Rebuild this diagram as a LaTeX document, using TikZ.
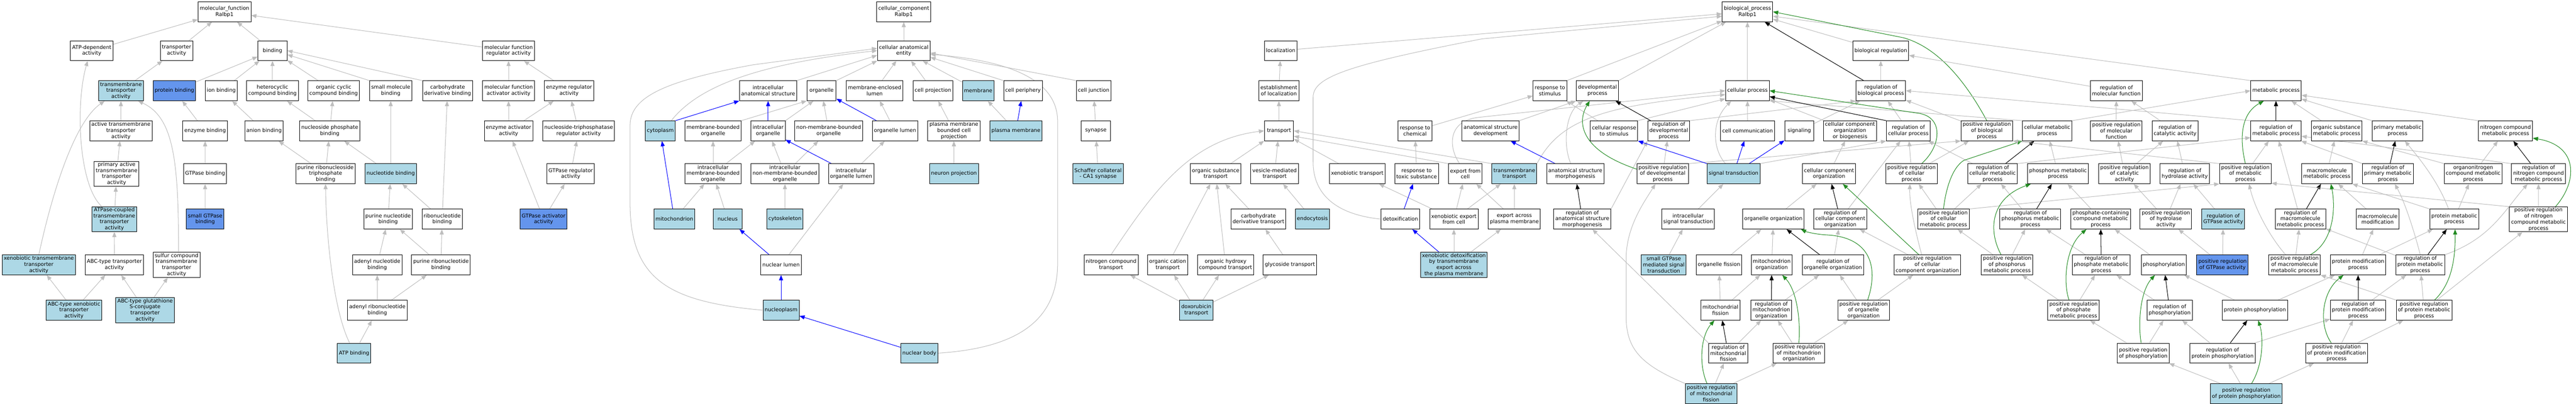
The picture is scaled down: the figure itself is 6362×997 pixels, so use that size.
\documentclass[tikz,border=0pt]{standalone}
\usepackage{fontspec}
\setmainfont{DejaVu Sans}
\usetikzlibrary{arrows.meta}
\definecolor{lightblue}{RGB}{173,216,230}
\definecolor{cornflower}{RGB}{100,149,237}
\definecolor{edgegray}{RGB}{190,190,190}
\definecolor{forestgreen}{RGB}{34,139,34}
\pgfdeclarelayer{edges}
\pgfsetlayers{edges,main}

\begin{document}
\begin{tikzpicture}[x=1pt,y=1pt]
    \tikzstyle{term}=[rectangle,draw=black,line width=1.2pt,fill=white,align=center,minimum width=72pt,minimum height=49pt,inner xsep=4pt,inner ysep=2pt,font=\fontsize{12.8}{15}\selectfont]
    \tikzstyle{every node}=[term]
    \tikzstyle{hit}=[fill=lightblue]
    \tikzstyle{ann}=[fill=cornflower]
    \tikzstyle{isa}=[draw=edgegray,line width=1.3pt,-{Triangle[length=13pt,width=10pt]}]
    \tikzstyle{partof}=[isa,draw=blue]
    \tikzstyle{regs}=[isa,draw=black]
    \tikzstyle{posreg}=[isa,draw=forestgreen]
    \useasboundingbox (0,0) rectangle (6362,-997);

    % molecular function
    \node (mf) at (554.5,-29) {molecular\_function\\Ralbp1};
    \node (atpdep) at (226.6,-125) {ATP-dependent\\activity};
    \node (transp) at (436,-125) {transporter\\activity};
    \node (binding) at (673,-125) {binding};
    \node (mfra) at (1256,-125) {molecular function\\regulator activity};
    \node[hit] (tmta) at (298.7,-224) {transmembrane\\transporter\\activity};
    \node[ann] (protbind) at (430.8,-224) {protein binding};
    \node (ionbind) at (546.5,-224) {ion binding};
    \node (hcb) at (673,-224) {heterocyclic\\compound binding};
    \node (occb) at (824,-224) {organic cyclic\\compound binding};
    \node (smb) at (965,-224) {small molecule\\binding};
    \node (cdb) at (1105.4,-224) {carbohydrate\\derivative binding};
    \node (mfaa) at (1256,-224) {molecular function\\activator activity};
    \node (era) at (1405.4,-224) {enzyme regulator\\activity};
    \node (atta) at (298.6,-323) {active transmembrane\\transporter\\activity};
    \node (enzbind) at (506.7,-323) {enzyme binding};
    \node (anbind) at (652,-323) {anion binding};
    \node (npb) at (814.4,-323) {nucleoside phosphate\\binding};
    \node (eaa) at (1256,-323) {enzyme activator\\activity};
    \node (ntra) at (1429,-323) {nucleoside-triphosphatase\\regulator activity};
    \node (pata) at (288,-429) {primary active\\transmembrane\\transporter\\activity};
    \node (gtpbind) at (506.5,-429) {GTPase binding};
    \node (prtb) at (804,-429) {purine ribonucleoside\\triphosphate\\binding};
    \node[hit] (ntb) at (965,-429) {nucleotide binding};
    \node (gtpra) at (1409.5,-429) {GTPase regulator\\activity};
    \node[hit] (atpcta) at (282.4,-541) {ATPase-coupled\\transmembrane\\transporter\\activity};
    \node[ann] (sgtpbind) at (506.7,-541) {small GTPase\\binding};
    \node (pnb) at (958.5,-541) {purine nucleotide\\binding};
    \node (rnb) at (1092,-541) {ribonucleotide\\binding};
    \node[ann] (gtpaa) at (1342.5,-541) {GTPase activator\\activity};
    \node[hit] (xtta) at (95.9,-654) {xenobiotic transmembrane\\transporter\\activity};
    \node (abcta) at (282.5,-654) {ABC-type transporter\\activity};
    \node (scta) at (436,-654) {sulfur compound\\transmembrane\\transporter\\activity};
    \node (anb) at (931.6,-654) {adenyl nucleotide\\binding};
    \node (prnb) at (1089,-654) {purine ribonucleotide\\binding};
    \node[hit] (abcx) at (182.7,-766) {ABC-type xenobiotic\\transporter\\activity};
    \node[hit] (abcg) at (358.3,-766) {ABC-type glutathione\\S-conjugate\\transporter\\activity};
    \node (arnb) at (931.9,-766) {adenyl ribonucleotide\\binding};
    \node[hit] (atpb) at (874.5,-872) {ATP binding};

    % cellular component
    \node (cc) at (2232,-29) {cellular\_component\\Ralbp1};
    \node (cae) at (2232,-125) {cellular anatomical\\entity};
    \node (iass) at (1897,-224) {intracellular\\anatomical structure};
    \node (organelle) at (2029,-224) {organelle};
    \node (mel) at (2160,-224) {membrane-enclosed\\lumen};
    \node (cproj) at (2304,-224) {cell projection};
    \node[hit] (membrane) at (2415.8,-224) {membrane};
    \node (cperiph) at (2526.5,-224) {cell periphery};
    \node (cjunc) at (2701,-224) {cell junction};
    \node[hit] (cytoplasm) at (1630.8,-323) {cytoplasm};
    \node (mbo) at (1761,-323) {membrane-bounded\\organelle};
    \node (io) at (1897,-323) {intracellular\\organelle};
    \node (nmbo) at (2046.6,-323) {non-membrane-bounded\\organelle};
    \node (olumen) at (2210.6,-323) {organelle lumen};
    \node (pmbcp) at (2355.8,-323) {plasma membrane\\bounded cell\\projection};
    \node[hit] (pm) at (2509,-323) {plasma membrane};
    \node (synapse) at (2706.4,-323) {synapse};
    \node (imbo) at (1761,-429) {intracellular\\membrane-bounded\\organelle};
    \node (inmbo) at (1938.6,-429) {intracellular\\non-membrane-bounded\\organelle};
    \node (iol) at (2102,-429) {intracellular\\organelle lumen};
    \node[hit] (nproj) at (2356,-429) {neuron projection};
    \node[hit] (scs) at (2711.8,-429) {Schaffer collateral\\- CA1 synapse};
    \node[hit] (mito) at (1665.4,-541) {mitochondrion};
    \node[hit] (nucleus) at (1797,-541) {nucleus};
    \node[hit] (cytoskel) at (1938.5,-541) {cytoskeleton};
    \node (nlumen) at (1929,-654) {nuclear lumen};
    \node[hit] (nplasm) at (1929,-766) {nucleoplasm};
    \node[hit] (nbody) at (2270.6,-872) {nuclear body};

    % biological process
    \node (bp) at (4315.7,-29) {biological\_process\\Ralbp1};
    \node (localization) at (3162.9,-125) {localization};
    \node (breg) at (4645,-125) {biological regulation};
    \node (eol) at (3158.4,-224) {establishment\\of localization};
    \node (rstim) at (3827.8,-224) {response to\\stimulus};
    \node (devp) at (3945.2,-224) {developmental\\process};
    \node (cp) at (4315.7,-224) {cellular process};
    \node (rbp) at (4645,-224) {regulation of\\biological process};
    \node (rmfn) at (5226.7,-224) {regulation of\\molecular function};
    \node (mp) at (5621,-224) {metabolic process};
    \node (transport) at (3158.7,-323) {transport};
    \node (rchem) at (3494.7,-323) {response to\\chemical};
    \node (asd) at (3681.3,-323) {anatomical structure\\development};
    \node (crs) at (3986.2,-323) {cellular response\\to stimulus};
    \node (rdp) at (4121.2,-323) {regulation of\\developmental\\process};
    \node (ccomm) at (4316,-323) {cell communication};
    \node (signaling) at (4443.7,-323) {signaling};
    \node (ccob) at (4569,-323) {cellular component\\organization\\or biogenesis};
    \node (rcp) at (4713,-323) {regulation of\\cellular process};
    \node (prbp) at (4906.8,-323) {positive regulation\\of biological\\process};
    \node (cmp) at (5056,-323) {cellular metabolic\\process};
    \node (prmf) at (5226.7,-323) {positive regulation\\of molecular\\function};
    \node (rcata) at (5371.8,-323) {regulation of\\catalytic activity};
    \node (rmp) at (5621,-323) {regulation of\\metabolic process};
    \node (osmp) at (5770.8,-323) {organic substance\\metabolic process};
    \node (pmp2) at (5921.2,-323) {primary metabolic\\process};
    \node (ncmp) at (6187.9,-323) {nitrogen compound\\metabolic process};
    \node (ost) at (3002.4,-429) {organic substance\\transport};
    \node (vmt) at (3147.9,-429) {vesicle-mediated\\transport};
    \node (xt) at (3352,-429) {xenobiotic transport};
    \node (rtox) at (3498.6,-429) {response to\\toxic substance};
    \node (efc) at (3618.8,-429) {export from\\cell};
    \node[hit] (tmt) at (3739.9,-429) {transmembrane\\transport};
    \node (asm) at (3890.4,-429) {anatomical structure\\morphogenesis};
    \node (prdp) at (4106.4,-429) {positive regulation\\of developmental\\process};
    \node[hit] (st) at (4281.4,-429) {signal transduction};
    \node (cco) at (4517.2,-429) {cellular component\\organization};
    \node (prcp) at (4721,-429) {positive regulation\\of cellular\\process};
    \node (rcmp) at (4921,-429) {regulation of\\cellular metabolic\\process};
    \node (phmp) at (5082.7,-429) {phosphorus metabolic\\process};
    \node (pcata) at (5246.7,-429) {positive regulation\\of catalytic\\activity};
    \node (rha) at (5395.7,-429) {regulation of\\hydrolase activity};
    \node (pmp) at (5545.4,-429) {positive regulation\\of metabolic\\process};
    \node (mmp) at (5746.6,-429) {macromolecule\\metabolic process};
    \node (rpmp) at (5897.3,-429) {regulation of\\primary metabolic\\process};
    \node (oncmp) at (6108,-429) {organonitrogen\\compound metabolic\\process};
    \node (rncmp) at (6269.4,-429) {regulation of\\nitrogen compound\\metabolic process};
    \node (cdt) at (3108,-541) {carbohydrate\\derivative transport};
    \node[hit] (endo) at (3241.3,-541) {endocytosis};
    \node (detox) at (3458.7,-541) {detoxification};
    \node (xefc) at (3590.7,-541) {xenobiotic export\\from cell};
    \node (eapm) at (3740,-541) {export across\\plasma membrane};
    \node (rasm) at (3907.7,-541) {regulation of\\anatomical structure\\morphogenesis};
    \node (isst) at (4169,-541) {intracellular\\signal transduction};
    \node (oo) at (4379.7,-541) {organelle organization};
    \node (rcco) at (4545,-541) {regulation of\\cellular component\\organization};
    \node (prcmp) at (4799.8,-541) {positive regulation\\of cellular\\metabolic process};
    \node (rphmp) at (5014.3,-541) {regulation of\\phosphorus metabolic\\process};
    \node (pcmp) at (5188,-541) {phosphate-containing\\compound metabolic\\process};
    \node (pha) at (5349,-541) {positive regulation\\of hydrolase\\activity};
    \node[hit] (rgtp) at (5490.6,-541) {regulation of\\GTPase activity};
    \node (rmmp) at (5681.3,-541) {regulation of\\macromolecule\\metabolic process};
    \node (mmod) at (5872,-541) {macromolecule\\modification};
    \node (protmp) at (6061.3,-541) {protein metabolic\\process};
    \node (pncmp) at (6269.2,-541.6) {positive regulation\\of nitrogen\\compound metabolic\\process};
    \node (nct) at (2744,-654) {nitrogen compound\\transport};
    \node (oct) at (2883.8,-654) {organic cation\\transport};
    \node (ohct) at (3026.7,-654) {organic hydroxy\\compound transport};
    \node (glyt) at (3185.6,-654) {glycoside transport};
    \node[hit] (xdtx) at (3590.7,-654) {xenobiotic detoxification\\by transmembrane\\export across\\the plasma membrane};
    \node[hit] (sgmst) at (4109,-654) {small GTPase\\mediated signal\\transduction};
    \node (ofis) at (4245.4,-654) {organelle fission};
    \node (mo) at (4375.7,-654) {mitochondrion\\organization};
    \node (roo) at (4526.7,-654) {regulation of\\organelle organization};
    \node (prcco) at (4760,-654) {positive regulation\\of cellular\\component organization};
    \node (prphmp) at (4957,-654) {positive regulation\\of phosphorus\\metabolic process};
    \node (rpcmp) at (5189.3,-654) {regulation of\\phosphate metabolic\\process};
    \node (phos) at (5344,-654) {phosphorylation};
    \node[ann] (pgtp) at (5489,-654) {positive regulation\\of GTPase activity};
    \node (pmmp) at (5666.8,-654) {positive regulation\\of macromolecule\\metabolic process};
    \node (pmodp) at (5823.8,-654) {protein modification\\process};
    \node (rprotmp) at (5977.2,-654) {regulation of\\protein metabolic\\process};
    \node[hit] (doxt) at (2954.5,-766) {doxorubicin\\transport};
    \node (mfis) at (4249,-766) {mitochondrial\\fission};
    \node (rmo) at (4374.5,-766) {regulation of\\mitochondrion\\organization};
    \node (proo) at (4602.5,-766) {positive regulation\\of organelle\\organization};
    \node (ppcmp) at (5121,-766) {positive regulation\\of phosphate\\metabolic process};
    \node (rphos) at (5358.4,-766) {regulation of\\phosphorylation};
    \node (pp) at (5569,-766) {protein phosphorylation};
    \node (rpmod) at (5823.8,-766) {regulation of\\protein modification\\process};
    \node (pprotmp) at (5986.7,-766) {positive regulation\\of protein metabolic\\process};
    \node (rmf) at (4268,-872) {regulation of\\mitochondrial\\fission};
    \node (prmo) at (4442.5,-872) {positive regulation\\of mitochondrion\\organization};
    \node (pphos) at (5293,-872) {positive regulation\\of phosphorylation};
    \node (rpp) at (5489,-872) {regulation of\\protein phosphorylation};
    \node (ppmod) at (5770.6,-872) {positive regulation\\of protein modification\\process};
    \node[hit] (pmf) at (4225.8,-972) {positive regulation\\of mitochondrial\\fission};
    \node[hit] (ppp) at (5547.7,-972) {positive regulation\\of protein phosphorylation};

    \begin{pgfonlayer}{edges}
    % molecular function edges
    \draw[isa] (atpdep) -- (mf);
    \draw[isa] (transp) -- (mf);
    \draw[isa] (binding) -- (mf);
    \draw[isa] (mfra) -- (mf);
    \draw[isa] (tmta) -- (transp);
    \draw[isa] (protbind) -- (binding);
    \draw[isa] (ionbind) -- (binding);
    \draw[isa] (hcb) -- (binding);
    \draw[isa] (occb) -- (binding);
    \draw[isa] (smb.north west) -- (binding.-15);
    \draw[isa] (cdb.north west) -- (binding.east);
    \draw[isa] (mfaa) -- (mfra);
    \draw[isa] (era) -- (mfra);
    \draw[isa] (atta) -- (tmta);
    \draw[isa] (enzbind) -- (protbind);
    \draw[isa] (anbind) -- (ionbind);
    \draw[isa] (npb) -- (hcb);
    \draw[isa] (npb) -- (occb);
    \draw[isa] (eaa) -- (mfaa);
    \draw[isa] (eaa) -- (era);
    \draw[isa] (ntra) -- (era);
    \draw[isa] (pata) -- (atta);
    \draw[isa] (gtpbind) -- (enzbind);
    \draw[isa] (prtb) -- (anbind);
    \draw[isa] (prtb) -- (npb);
    \draw[isa] (ntb) -- (npb);
    \draw[isa] (ntb) -- (smb);
    \draw[isa] (gtpra) -- (ntra);
    \draw[isa] (atpcta) -- (pata);
    \draw[isa] ([xshift=-31pt]atpcta.north) .. controls (195,-460) and (185,-260) .. ([xshift=-10pt]atpdep.south);
    \draw[isa] (sgtpbind) -- (gtpbind);
    \draw[isa] (pnb) -- (ntb);
    \draw[isa] (rnb) -- (ntb);
    \draw[isa] (rnb) -- (cdb);
    \draw[isa] (gtpaa) -- (eaa);
    \draw[isa] (gtpaa) -- (gtpra);
    \draw[isa] (xtta.north) .. controls (130,-470) and (185,-300) .. ([xshift=-40pt]tmta.south);
    \draw[isa] (abcta) -- (atpcta);
    \draw[isa] ([xshift=5pt]scta.north) .. controls (441,-400) and (430,-290) .. ([xshift=42pt]tmta.south);
    \draw[isa] (anb) -- (pnb);
    \draw[isa] (prnb) -- (pnb);
    \draw[isa] (prnb) -- (rnb);
    \draw[isa] (abcx) -- (xtta);
    \draw[isa] (abcx) -- (abcta);
    \draw[isa] (abcg) -- (abcta);
    \draw[isa] (abcg) -- (scta);
    \draw[isa] (arnb) -- (anb);
    \draw[isa] (arnb) -- (prnb);
    \draw[isa] ([xshift=-11pt]atpb.north) .. controls (820,-760) and (805,-560) .. (prtb.south);
    \draw[isa] (atpb) -- (arnb);

    % cellular component edges
    \draw[isa] (cae) -- (cc);
    \draw[isa] (iass.north east) -- (cae.190);
    \draw[isa] (organelle.north east) -- (cae.south west);
    \draw[isa] (mel) -- (cae);
    \draw[isa] (cproj) -- (cae);
    \draw[isa] (membrane) -- (cae);
    \draw[isa] (cperiph.north west) -- (cae.-14);
    \draw[isa] (cjunc.north west) -- (cae.-5);
    \draw[isa] ([xshift=27pt]cytoplasm.north) .. controls (1720,-220) and (1850,-160) .. (cae.west);
    \draw[isa] (nplasm.west) .. controls (1650,-745) and (1556,-690) .. (1556,-500) -- (1556,-310) .. controls (1556,-240) and (1640,-200) .. (1860,-160) -- (cae.175);
    \draw[isa] (nbody.east) .. controls (2500,-860) and (2612,-800) .. (2612,-650) -- (2612,-300) .. controls (2612,-200) and (2500,-150) .. (cae.-8);
    \draw[isa] (mbo.north east) -- (organelle.south west);
    \draw[isa] (io.north east) -- ([xshift=-20pt]organelle.south);
    \draw[isa] (nmbo) -- (organelle);
    \draw[isa] (olumen) -- (mel);
    \draw[isa] (pmbcp) -- (cproj);
    \draw[isa] (pm) -- (membrane);
    \draw[isa] (synapse) -- (cjunc);
    \draw[isa] (imbo) -- (mbo);
    \draw[isa] (imbo) -- (io);
    \draw[isa] (inmbo) -- (io);
    \draw[isa] (inmbo) -- (nmbo);
    \draw[isa] (iol) -- (olumen);
    \draw[isa] (nproj) -- (pmbcp);
    \draw[isa] (scs) -- (synapse);
    \draw[isa] (mito) -- (imbo);
    \draw[isa] (nucleus) -- (imbo);
    \draw[isa] (cytoskel) -- (inmbo);
    \draw[isa] (nlumen) -- (iol);
    \draw[partof] (cytoplasm.north east) -- (iass.south west);
    \draw[partof] (io) -- (iass);
    \draw[partof] (olumen) -- (organelle);
    \draw[partof] (pm) -- (cperiph);
    \draw[partof] (iol) -- (io);
    \draw[partof] (mito) -- (cytoplasm);
    \draw[partof] (nlumen) -- (nucleus);
    \draw[partof] (nplasm) -- (nlumen);
    \draw[partof] (nbody) -- (nplasm);

    % biological process edges
    \draw[isa] (localization) -- (bp);
    \draw[isa] (detox.west) .. controls (3300,-530) and (3243,-480) .. (3243,-400) -- (3243,-240) .. controls (3243,-190) and (3330,-160) .. (3660,-96) -- (bp.190);
    \draw[isa] (rstim.north east) -- (bp.200);
    \draw[isa] (devp.north east) -- ([xshift=10pt]bp.south west);
    \draw[isa] (cp) -- (bp);
    \draw[isa] (breg) -- (bp);
    \draw[isa] (mp.north west) -- (bp.-10);
    \draw[regs] (rbp) -- (bp);
    \draw[posreg] (prbp.north) .. controls (4870,-230) and (4800,-120) .. (4700,-93) -- (bp.east);
    \draw[isa] (eol) -- (localization);
    \draw[isa] (transport) -- (eol);
    \draw[isa] (ost) -- (transport);
    \draw[isa] (vmt) -- (transport);
    \draw[isa] (nct.north) .. controls (2850,-470) and (2940,-345) .. (transport.west);
    \draw[isa] (xt) -- (transport);
    \draw[isa] (efc.north west) -- (transport.-20);
    \draw[isa] (tmt.north west) -- (transport.east);
    \draw[isa] (cdt) -- (ost);
    \draw[isa] (oct) -- (ost);
    \draw[isa] (ohct) -- (ost);
    \draw[isa] (glyt) -- (cdt);
    \draw[isa] (doxt) -- (nct);
    \draw[isa] (doxt) -- (oct);
    \draw[isa] (doxt) -- (ohct);
    \draw[isa] (doxt) -- (glyt);
    \draw[isa] (endo) -- (vmt);
    \draw[isa] (rchem) -- (rstim);
    \draw[isa] (rtox) -- (rchem);
    \draw[isa] (crs) -- (rstim);
    \draw[isa] (crs.north east) -- (cp.200);
    \draw[isa] ([xshift=-14pt]efc.north) .. controls (3580,-370) and (3570,-300) .. (3650,-290) -- (cp.west);
    \draw[isa] (tmt.north east) .. controls (3850,-300) and (3950,-260) .. (cp.190);
    \draw[isa] (asd.north east) -- (devp.south west);
    \draw[isa] ([xshift=-11pt]asm.north) .. controls (3860,-360) and (3865,-280) .. ([xshift=-35pt]devp.south);
    \draw[isa] (rdp.north east) -- (rbp.south west);
    \draw[isa] (prdp) -- (rdp);
    \draw[isa] (prdp.north east) -- (prbp.south west);
    \draw[isa] (xdtx) -- (xefc);
    \draw[isa] (xdtx) -- (eapm);
    \draw[isa] (xefc) -- (xt);
    \draw[isa] (xefc) -- (efc);
    \draw[isa] (xefc) -- (tmt);
    \draw[isa] (eapm) -- (tmt);
    \draw[isa] (eapm) -- (efc);
    \draw[isa] (rmf.north west) -- ([xshift=25pt]rasm.south);
    \draw[isa] (rasm.north east) -- (rdp.south west);
    \draw[isa] (pmf.north west) .. controls (4050,-900) and (4016,-860) .. (4016,-780) -- (4016,-640) .. controls (4016,-560) and (4060,-500) .. ([xshift=-18pt]prdp.south);
    \draw[isa] (sgmst) -- (isst);
    \draw[isa] (isst) -- (st);
    \draw[isa] ([xshift=-20pt]st.north) .. controls (4230,-370) and (4225,-300) .. ([xshift=-40pt]cp.south);
    \draw[isa] (st.north east) -- (rcp.south west);
    \draw[isa] (rbp) -- (breg);
    \draw[isa] (rmfn) -- (breg);
    \draw[isa] (rmp.north west) -- (rbp.east);
    \draw[isa] (prbp) -- (rbp);
    \draw[isa] (signaling) -- (rbp);
    \draw[isa] (ccomm) -- (cp);
    \draw[isa] (ccob) -- (cp);
    \draw[isa] (cmp.north west) -- (cp.south east);
    \draw[regs] (rcp.north west) -- (cp.-15);
    \draw[isa] (rcp) -- (rbp);
    \draw[isa] (prcp) -- (rcp);
    \draw[isa] (prcp) -- (prbp);
    \draw[posreg] ([xshift=25pt]prcp.north) .. controls (4795,-360) and (4800,-290) .. (4740,-280) -- (cp.east);
    \draw[isa] (cco) -- (ccob);
    \draw[isa] (oo) -- (cco);
    \draw[regs] (rcco) -- (cco);
    \draw[isa] (rcco) -- (rcp);
    \draw[isa] (prcco) -- (rcco);
    \draw[isa] ([xshift=-14pt]prcco.north) .. controls (4730,-570) and (4715,-500) .. ([xshift=-4pt]prcp.south);
    \draw[posreg] ([xshift=-21pt]prcco.north) -- ([xshift=34pt]cco.south);
    \draw[isa] (ofis) -- (oo);
    \draw[isa] (mo) -- (oo);
    \draw[regs] (roo) -- (oo);
    \draw[isa] (roo) -- (rcco);
    \draw[isa] (mfis) -- (ofis);
    \draw[isa] (mfis) -- (mo);
    \draw[regs] (rmo) -- (mo);
    \draw[isa] (rmo) -- (roo);
    \draw[isa] (proo) -- (roo);
    \draw[posreg] ([xshift=10pt]proo.north) .. controls (4640,-660) and (4620,-585) .. (4510,-580) .. controls (4480,-578) and (4460,-572) .. ([xshift=68pt]oo.south);
    \draw[isa] (proo) -- (prcco);
    \draw[regs] (rmf) -- (mfis);
    \draw[isa] (rmf) -- (rmo);
    \draw[isa] (prmo) -- (rmo);
    \draw[posreg] (prmo.north) .. controls (4447,-800) and (4440,-720) .. ([xshift=26pt]mo.south);
    \draw[isa] (prmo) -- (proo);
    \draw[isa] (pmf) -- (rmf);
    \draw[posreg] ([xshift=-10pt]pmf.north) .. controls (4195,-900) and (4200,-830) .. ([xshift=-15pt]mfis.south);
    \draw[isa] (pmf) -- (prmo);
    \draw[regs] (rasm) -- (asm);
    \draw[regs] (rdp) -- (devp);
    \draw[posreg] (prdp.170) .. controls (3900,-370) and (3895,-300) .. ([xshift=-19pt]devp.south);
    \draw[partof] (detox) -- (rtox);
    \draw[partof] (xdtx) -- (detox);
    \draw[partof] (asm) -- (asd);
    \draw[partof] (st.north west) -- (crs.south east);
    \draw[partof] (st) -- (ccomm);
    \draw[partof] (st) -- (signaling);
    \draw[isa] (cmp.north east) -- (mp.west);
    \draw[regs] (rcmp) -- (cmp);
    \draw[isa] (rcmp) -- (rcp);
    \draw[isa] (rcmp.north east) -- (rmp.195);
    \draw[isa] (prcmp) -- (prcp);
    \draw[isa] (prcmp) -- (rcmp);
    \draw[isa] (prcmp.north east) -- (pmp.south west);
    \draw[posreg] (prcmp.north) .. controls (4805,-470) and (4820,-415) .. (4850,-396) -- (cmp.south west);
    \draw[isa] (phmp) -- (cmp);
    \draw[regs] (rphmp) -- (phmp);
    \draw[isa] (rphmp) -- (rcmp);
    \draw[isa] (pcmp) -- (phmp);
    \draw[isa] (prphmp) -- (prcmp);
    \draw[isa] (prphmp) -- (rphmp);
    \draw[posreg] ([xshift=-15pt]prphmp.north) .. controls (4910,-570) and (4915,-490) .. ([xshift=-67pt]phmp.south);
    \draw[regs] (rpcmp) -- (pcmp);
    \draw[isa] (rpcmp) -- (rphmp);
    \draw[isa] (ppcmp) -- (prphmp);
    \draw[isa] (ppcmp) -- (rpcmp);
    \draw[posreg] ([xshift=-11pt]ppcmp.north) .. controls (5095,-700) and (5100,-610) .. ([xshift=-35pt]pcmp.south);
    \draw[isa] (pphos) -- (ppcmp);
    \draw[isa] (prmf) -- (rmfn);
    \draw[isa] (pcata) -- (prmf);
    \draw[isa] (pcata) -- (rcata);
    \draw[isa] (rcata) -- (rmfn);
    \draw[isa] (osmp) -- (mp);
    \draw[isa] (pmp2.north west) -- (mp.-18);
    \draw[isa] (ncmp.north west) -- (mp.-10);
    \draw[regs] (rmp) -- (mp);
    \draw[isa] (rpmp.north west) -- (rmp.-22);
    \draw[isa] (rncmp.north west) -- (rmp.-12);
    \draw[isa] (rha) -- (rcata);
    \draw[isa] (pmp) -- (rmp);
    \draw[posreg] (pmp.north) .. controls (5530,-340) and (5535,-280) .. (mp.220);
    \draw[isa] (pmp.north west) -- (prbp.south east);
    \draw[isa] (mmp) -- (osmp);
    \draw[isa] (pha) -- (pcata);
    \draw[isa] (pha) -- (rha);
    \draw[isa] (rgtp) -- (rha);
    \draw[regs] (rmmp) -- (mmp);
    \draw[isa] (rmmp) -- (rmp);
    \draw[isa] (rprotmp) -- (rmmp);
    \draw[isa] (pncmp.north west) -- (pmp.-20);
    \draw[isa] (protmp.north west) -- (mmp.south east);
    \draw[isa] (mmod) -- (mmp);
    \draw[isa] (pgtp) -- (pha);
    \draw[isa] (pgtp) -- (rgtp);
    \draw[isa] ([xshift=-22pt]pmmp.north) .. controls (5610,-590) and (5570,-520) .. ([xshift=9pt]pmp.south);
    \draw[isa] (pmmp) -- (rmmp);
    \draw[posreg] ([xshift=39pt]pmmp.north) .. controls (5760,-600) and (5770,-520) .. ([xshift=10pt]mmp.south);
    \draw[isa] (pprotmp.north west) -- (pmmp.south east);
    \draw[isa] (phos) -- (pcmp);
    \draw[isa] (rphos) -- (rpcmp);
    \draw[regs] (rphos) -- (phos);
    \draw[isa] (pmodp) -- (mmod);
    \draw[isa] (pmodp) -- (protmp);
    \draw[isa] (pp) -- (phos);
    \draw[isa] (pp) -- (pmodp);
    \draw[regs] (rpmod) -- (pmodp);
    \draw[isa] (rpmod) -- (rprotmp);
    \draw[isa] (pphos) -- (rphos);
    \draw[posreg] ([xshift=-5pt]pphos.north) .. controls (5280,-800) and (5285,-720) .. ([xshift=-22pt]phos.south);
    \draw[regs] (rpp) -- (pp);
    \draw[isa] (rpp) -- (rphos);
    \draw[isa] (rpp) -- (rpmod);
    \draw[isa] (ppmod) -- (rpmod);
    \draw[isa] (ppmod) -- (pprotmp);
    \draw[posreg] ([xshift=-13pt]ppmod.north) .. controls (5725,-800) and (5735,-720) .. ([xshift=-36pt]pmodp.south);
    \draw[isa] (ppp) -- (pphos);
    \draw[isa] (ppp) -- (rpp);
    \draw[isa] (ppp) -- (ppmod);
    \draw[posreg] ([xshift=13pt]ppp.north) .. controls (5590,-900) and (5590,-830) .. ([xshift=8pt]pp.south);
    \draw[regs] (rpmp) -- (pmp2);
    \draw[isa] ([xshift=-14pt]protmp.north) .. controls (6030,-470) and (6000,-420) .. ([xshift=18pt]pmp2.south);
    \draw[isa] (oncmp.north west) -- (osmp.south east);
    \draw[isa] (oncmp) -- (ncmp);
    \draw[isa] (protmp) -- (oncmp);
    \draw[regs] (rncmp) -- (ncmp);
    \draw[isa] (pncmp) -- (rncmp);
    \draw[posreg] ([xshift=42pt]pncmp.north) .. controls (6365,-450) and (6370,-360) .. (ncmp.-15);
    \draw[isa] (rprotmp.north east) .. controls (6150,-590) and (6185,-520) .. ([xshift=-27pt]rncmp.south);
    \draw[isa] (rprotmp.north) .. controls (5965,-580) and (5940,-500) .. ([xshift=17pt]rpmp.south);
    \draw[regs] (rprotmp) -- (protmp);
    \draw[isa] (pprotmp) -- (rprotmp);
    \draw[isa] (pprotmp) -- (pncmp);
    \draw[posreg] ([xshift=26pt]pprotmp.north) .. controls (6055,-700) and (6064,-640) .. ([xshift=2pt]protmp.south);
    \end{pgfonlayer}
\end{tikzpicture}
\end{document}
